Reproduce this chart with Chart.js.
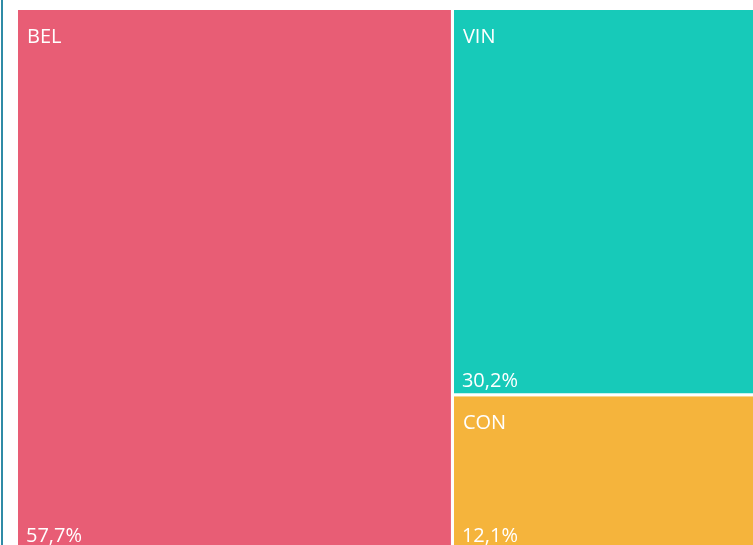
<!DOCTYPE html>
<html>
<head>
<meta charset="utf-8">
<script src="https://cdn.jsdelivr.net/npm/chart.js@4.4.1/dist/chart.umd.min.js"></script>
<style>
  html, body { margin: 0; padding: 0; background: #fff; overflow: hidden; }
  #wrap { position: relative; width: 753px; height: 545px; overflow: hidden; }
  #edge { position: absolute; left: 1px; top: 0; width: 2px; height: 100%; background: #2f8ba6; }
  #chart { position: absolute; left: 0; top: 0; }
</style>
</head>
<body>
<div id="wrap">
  <canvas id="chart" width="780" height="560"></canvas>
  <div id="edge"></div>
</div>
<script>
// treemap data
const names = ['BEL', 'VIN', 'CON'];
const values = [57.7, 30.2, 12.1];
const colors = ['#E85D75', '#17CAB9', '#F5B43C'];

const GAP = 3;

// first item takes a full-height column, the rest stack in the second column
function layout(vals) {
  const total = vals.reduce((a, b) => a + b, 0);
  const w0 = vals[0] / total * 100;
  const rects = [{ x0: 0, x1: w0, y0: 0, y1: 100 }];
  const rest = total - vals[0];
  let top = 100;
  for (let i = 1; i < vals.length; i++) {
    const h = vals[i] / rest * 100;
    rects.push({ x0: w0, x1: 100, y0: top - h, y1: top });
    top -= h;
  }
  return rects;
}

const rects = layout(values);

const datasets = rects.map((r, i) => ({
  label: names[i],
  data: [
    { x: r.x0, y: r.y0 }, { x: r.x1, y: r.y0 },
    { x: r.x1, y: r.y1 }, { x: r.x0, y: r.y1 }, { x: r.x0, y: r.y0 }
  ],
  showLine: true,
  fill: 'shape',
  backgroundColor: colors[i],
  borderColor: '#ffffff',
  borderWidth: GAP,
  borderJoinStyle: 'miter',
  pointRadius: 0,
  pointHoverRadius: 0,
  tension: 0,
  clip: false
}));

const fmtPct = v => v.toFixed(1).replace('.', ',') + '%';

// draw name (top-left) and share (bottom-left) inside every tile
const tileLabels = {
  id: 'tileLabels',
  afterDatasetsDraw(chart) {
    const { ctx, scales: { x, y } } = chart;
    const total = values.reduce((a, b) => a + b, 0);
    ctx.save();
    ctx.fillStyle = '#ffffff';
    ctx.font = '20px "Open Sans", sans-serif';
    ctx.textAlign = 'left';
    ctx.textBaseline = 'alphabetic';
    rects.forEach((r, i) => {
      const left = x.getPixelForValue(r.x0) + GAP / 2;
      const top = y.getPixelForValue(r.y1) + GAP / 2;
      const bottom = y.getPixelForValue(r.y0) - GAP / 2;
      ctx.fillText(names[i], left + 9, top + 33);
      ctx.fillText(fmtPct(values[i] / total * 100), left + 8, bottom - 6);
    });
    ctx.restore();
  }
};

new Chart(document.getElementById('chart'), {
  type: 'scatter',
  data: { datasets },
  options: {
    responsive: false,
    animation: false,
    events: [],
    layout: { padding: { left: 16.5, top: 8.5, right: 8, bottom: 10.5 } },
    plugins: {
      legend: { display: false },
      tooltip: { enabled: false }
    },
    scales: {
      x: { type: 'linear', min: 0, max: 100, display: false },
      y: { type: 'linear', min: 0, max: 100, display: false }
    }
  },
  plugins: [tileLabels]
});
</script>
</body>
</html>
